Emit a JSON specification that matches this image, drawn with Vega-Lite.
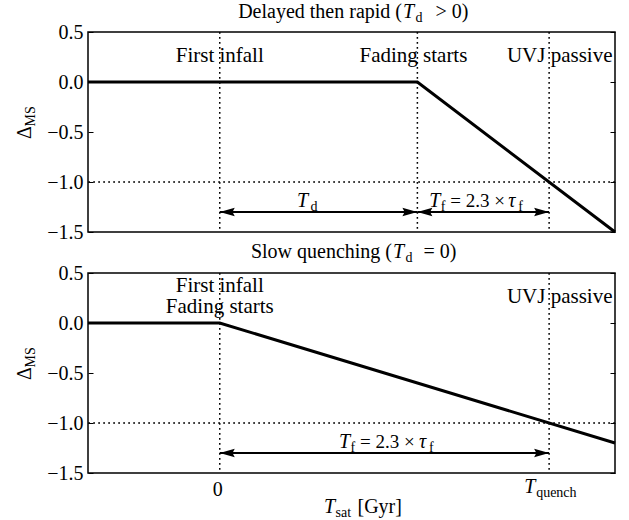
{
  "$schema": "https://vega.github.io/schema/vega-lite/v6.json",
  "background": "white",
  "padding": {"left": 14, "top": 1, "right": 5, "bottom": 0},
  "config": {
    "view": {"stroke": "black", "strokeWidth": 1.5},
    "text": {"font": "Liberation Serif", "fontSize": 20, "color": "black", "baseline": "alphabetic"},
    "axis": {"labelFont": "Liberation Serif", "labelFontSize": 20, "labelColor": "black", "tickColor": "black", "grid": false, "domain": false, "title": null}
  },
  "datasets": {
    "t_line": [{"x": -1, "y": 0}, {"x": 1.5, "y": 0}, {"x": 3, "y": -1.5}],
    "b_line": [{"x": -1, "y": 0}, {"x": 0, "y": 0}, {"x": 3, "y": -1.2}],
    "t_vl": [{"x": 0}, {"x": 1.5}, {"x": 2.5}],
    "b_vl": [{"x": 0}, {"x": 2.5}],
    "hl": [{"y": -1}],
    "t_arr": [{"x": 0, "x2": 1.5, "y": -1.3}, {"x": 1.5, "x2": 2.5, "y": -1.3}],
    "b_arr": [{"x": 0, "x2": 2.5, "y": -1.3}],
    "t_heads": [{"x": 0, "y": -1.3, "dir": "left"}, {"x": 1.5, "y": -1.3, "dir": "right"}, {"x": 1.5, "y": -1.3, "dir": "left"}, {"x": 2.5, "y": -1.3, "dir": "right"}],
    "b_heads": [{"x": 0, "y": -1.3, "dir": "left"}, {"x": 2.5, "y": -1.3, "dir": "right"}],
    "t_lab": [{"x": 0, "y": 0.2, "text": "First infall"}, {"x": 1.47, "y": 0.2, "text": "Fading starts"}, {"x": 2.58, "y": 0.2, "text": "UVJ passive"}],
    "b_lab": [{"x": 0, "y": 0.31, "text": "First infall"}, {"x": 0, "y": 0.1, "text": "Fading starts"}, {"x": 2.58, "y": 0.2, "text": "UVJ passive"}],
    "t_math": [
      {"k": "title_pre", "x": 1, "y": 0.5, "text": "Delayed then rapid ("},
      {"k": "title_T", "x": 1, "y": 0.5, "text": "T"},
      {"k": "title_sub", "x": 1, "y": 0.5, "text": "d"},
      {"k": "title_post", "x": 1, "y": 0.5, "text": "> 0)"},
      {"k": "Td_T", "x": 0.75, "y": -1.25, "text": "T"},
      {"k": "Td_sub", "x": 0.75, "y": -1.25, "text": "d"},
      {"k": "Tf_T", "x": 2.0, "y": -1.25, "text": "T"},
      {"k": "Tf_sub1", "x": 2.0, "y": -1.25, "text": "f"},
      {"k": "Tf_mid", "x": 2.0, "y": -1.25, "text": "= 2.3 ×"},
      {"k": "Tf_tau", "x": 2.0, "y": -1.25, "text": "τ"},
      {"k": "Tf_sub2", "x": 2.0, "y": -1.25, "text": "f"},
      {"k": "yt_D", "x": -1, "y": -0.5, "text": "Δ"},
      {"k": "yt_MS", "x": -1, "y": -0.5, "text": "MS"}
    ],
    "b_math": [
      {"k": "title_pre", "x": 1, "y": 0.5, "text": "Slow quenching ("},
      {"k": "title_T", "x": 1, "y": 0.5, "text": "T"},
      {"k": "title_sub", "x": 1, "y": 0.5, "text": "d"},
      {"k": "title_post", "x": 1, "y": 0.5, "text": "= 0)"},
      {"k": "Tf_T", "x": 1.25, "y": -1.25, "text": "T"},
      {"k": "Tf_sub1", "x": 1.25, "y": -1.25, "text": "f"},
      {"k": "Tf_mid", "x": 1.25, "y": -1.25, "text": "= 2.3 ×"},
      {"k": "Tf_tau", "x": 1.25, "y": -1.25, "text": "τ"},
      {"k": "Tf_sub2", "x": 1.25, "y": -1.25, "text": "f"},
      {"k": "yt_D", "x": -1, "y": -0.5, "text": "Δ"},
      {"k": "yt_MS", "x": -1, "y": -0.5, "text": "MS"},
      {"k": "x0", "x": 0, "y": -1.5, "text": "0"},
      {"k": "Tq_T", "x": 2.5, "y": -1.5, "text": "T"},
      {"k": "Tq_sub", "x": 2.5, "y": -1.5, "text": "quench"},
      {"k": "Ts_T", "x": 1, "y": -1.5, "text": "T"},
      {"k": "Ts_sub", "x": 1, "y": -1.5, "text": "sat"},
      {"k": "Ts_unit", "x": 1, "y": -1.5, "text": "[Gyr]"}
    ]
  },
  "vconcat": [
    {
      "width": 527, "height": 200,
      "resolve": {"axis": {"y": "independent"}},
      "layer": [
        {"data": {"name": "t_vl"}, "mark": {"type": "rule", "color": "black", "strokeWidth": 1.5, "strokeDash": [1.8, 3.2]},
         "encoding": {"x": {"field": "x", "type": "quantitative", "scale": {"domain": [-1, 3], "nice": false}, "axis": null}}},
        {"data": {"name": "hl"}, "mark": {"type": "rule", "color": "black", "strokeWidth": 1.5, "strokeDash": [1.8, 3.2]},
         "encoding": {"y": {"field": "y", "type": "quantitative", "scale": {"domain": [-1.5, 0.5], "nice": false},
           "axis": {"orient": "left", "values": [0.5, 0, -0.5, -1, -1.5], "format": ".1f", "tickSize": -5, "labelPadding": 10}}}},
        {"data": {"name": "t_line"}, "mark": {"type": "line", "color": "black", "strokeWidth": 3},
         "encoding": {"x": {"field": "x", "type": "quantitative", "scale": {"domain": [-1, 3], "nice": false}, "axis": null},
           "y": {"field": "y", "type": "quantitative", "scale": {"domain": [-1.5, 0.5], "nice": false},
             "axis": {"orient": "right", "values": [0.5, 0, -0.5, -1, -1.5], "labels": false, "tickSize": -5}}}},
        {"data": {"name": "t_arr"}, "mark": {"type": "rule", "color": "black", "strokeWidth": 1.8},
         "encoding": {"x": {"field": "x", "type": "quantitative", "scale": {"domain": [-1, 3], "nice": false}, "axis": null}, "x2": {"field": "x2"},
           "y": {"field": "y", "type": "quantitative", "scale": {"domain": [-1.5, 0.5], "nice": false}, "axis": null}}},
        {"data": {"name": "t_heads"}, "mark": {"type": "point", "filled": true, "color": "black", "opacity": 1, "size": 900, "strokeWidth": 0},
         "encoding": {"x": {"field": "x", "type": "quantitative", "scale": {"domain": [-1, 3], "nice": false}, "axis": null},
           "y": {"field": "y", "type": "quantitative", "scale": {"domain": [-1.5, 0.5], "nice": false}, "axis": null},
           "shape": {"field": "dir", "type": "nominal", "scale": {"domain": ["left", "right"], "range": ["M0,0L1,-0.28L0.85,0L1,0.28Z", "M0,0L-1,-0.28L-0.85,0L-1,0.28Z"]}, "legend": null}}},
        {"data": {"name": "t_lab"}, "mark": {"type": "text", "align": "center", "fontSize": 21, "font": "Liberation Serif"},
         "encoding": {"x": {"field": "x", "type": "quantitative", "scale": {"domain": [-1, 3], "nice": false}, "axis": null},
           "y": {"field": "y", "type": "quantitative", "scale": {"domain": [-1.5, 0.5], "nice": false}, "axis": null}, "text": {"field": "text"}}},
        {"data": {"name": "t_math"}, "transform": [{"filter": "datum.k == 'title_pre'"}], "mark": {"type": "text", "align": "right", "font": "Liberation Serif", "dx": 50.5, "dy": -14},
         "encoding": {"x": {"field": "x", "type": "quantitative", "scale": {"domain": [-1, 3], "nice": false}, "axis": null},
           "y": {"field": "y", "type": "quantitative", "scale": {"domain": [-1.5, 0.5], "nice": false}, "axis": null}, "text": {"field": "text"}}},
        {"data": {"name": "t_math"}, "transform": [{"filter": "datum.k == 'title_T'"}], "mark": {"type": "text", "align": "left", "font": "Liberation Serif", "fontStyle": "italic", "dx": 51.5, "dy": -14},
         "encoding": {"x": {"field": "x", "type": "quantitative", "scale": {"domain": [-1, 3], "nice": false}, "axis": null},
           "y": {"field": "y", "type": "quantitative", "scale": {"domain": [-1.5, 0.5], "nice": false}, "axis": null}, "text": {"field": "text"}}},
        {"data": {"name": "t_math"}, "transform": [{"filter": "datum.k == 'title_sub'"}], "mark": {"type": "text", "align": "left", "font": "Liberation Serif", "fontSize": 14, "dx": 64, "dy": -10},
         "encoding": {"x": {"field": "x", "type": "quantitative", "scale": {"domain": [-1, 3], "nice": false}, "axis": null},
           "y": {"field": "y", "type": "quantitative", "scale": {"domain": [-1.5, 0.5], "nice": false}, "axis": null}, "text": {"field": "text"}}},
        {"data": {"name": "t_math"}, "transform": [{"filter": "datum.k == 'title_post'"}], "mark": {"type": "text", "align": "left", "font": "Liberation Serif", "dx": 84, "dy": -14},
         "encoding": {"x": {"field": "x", "type": "quantitative", "scale": {"domain": [-1, 3], "nice": false}, "axis": null},
           "y": {"field": "y", "type": "quantitative", "scale": {"domain": [-1.5, 0.5], "nice": false}, "axis": null}, "text": {"field": "text"}}},
        {"data": {"name": "t_math"}, "transform": [{"filter": "datum.k == 'Td_T'"}], "mark": {"type": "text", "align": "left", "font": "Liberation Serif", "fontStyle": "italic", "dx": -21.5},
         "encoding": {"x": {"field": "x", "type": "quantitative", "scale": {"domain": [-1, 3], "nice": false}, "axis": null},
           "y": {"field": "y", "type": "quantitative", "scale": {"domain": [-1.5, 0.5], "nice": false}, "axis": null}, "text": {"field": "text"}}},
        {"data": {"name": "t_math"}, "transform": [{"filter": "datum.k == 'Td_sub'"}], "mark": {"type": "text", "align": "left", "font": "Liberation Serif", "fontSize": 14, "dx": -8, "dy": 4},
         "encoding": {"x": {"field": "x", "type": "quantitative", "scale": {"domain": [-1, 3], "nice": false}, "axis": null},
           "y": {"field": "y", "type": "quantitative", "scale": {"domain": [-1.5, 0.5], "nice": false}, "axis": null}, "text": {"field": "text"}}},
        {"data": {"name": "t_math"}, "transform": [{"filter": "datum.k == 'Tf_T'"}], "mark": {"type": "text", "align": "left", "font": "Liberation Serif", "fontStyle": "italic", "dx": -54},
         "encoding": {"x": {"field": "x", "type": "quantitative", "scale": {"domain": [-1, 3], "nice": false}, "axis": null},
           "y": {"field": "y", "type": "quantitative", "scale": {"domain": [-1.5, 0.5], "nice": false}, "axis": null}, "text": {"field": "text"}}},
        {"data": {"name": "t_math"}, "transform": [{"filter": "datum.k == 'Tf_sub1'"}], "mark": {"type": "text", "align": "left", "font": "Liberation Serif", "fontSize": 14, "dx": -42.5, "dy": 4},
         "encoding": {"x": {"field": "x", "type": "quantitative", "scale": {"domain": [-1, 3], "nice": false}, "axis": null},
           "y": {"field": "y", "type": "quantitative", "scale": {"domain": [-1.5, 0.5], "nice": false}, "axis": null}, "text": {"field": "text"}}},
        {"data": {"name": "t_math"}, "transform": [{"filter": "datum.k == 'Tf_mid'"}], "mark": {"type": "text", "align": "left", "font": "Liberation Serif", "fontSize": 19, "dx": -33},
         "encoding": {"x": {"field": "x", "type": "quantitative", "scale": {"domain": [-1, 3], "nice": false}, "axis": null},
           "y": {"field": "y", "type": "quantitative", "scale": {"domain": [-1.5, 0.5], "nice": false}, "axis": null}, "text": {"field": "text"}}},
        {"data": {"name": "t_math"}, "transform": [{"filter": "datum.k == 'Tf_tau'"}], "mark": {"type": "text", "align": "left", "font": "Liberation Serif", "fontStyle": "italic", "dx": 25},
         "encoding": {"x": {"field": "x", "type": "quantitative", "scale": {"domain": [-1, 3], "nice": false}, "axis": null},
           "y": {"field": "y", "type": "quantitative", "scale": {"domain": [-1.5, 0.5], "nice": false}, "axis": null}, "text": {"field": "text"}}},
        {"data": {"name": "t_math"}, "transform": [{"filter": "datum.k == 'Tf_sub2'"}], "mark": {"type": "text", "align": "left", "font": "Liberation Serif", "fontSize": 14, "dx": 35, "dy": 4},
         "encoding": {"x": {"field": "x", "type": "quantitative", "scale": {"domain": [-1, 3], "nice": false}, "axis": null},
           "y": {"field": "y", "type": "quantitative", "scale": {"domain": [-1.5, 0.5], "nice": false}, "axis": null}, "text": {"field": "text"}}},
        {"data": {"name": "t_math"}, "transform": [{"filter": "datum.k == 'yt_D'"}], "mark": {"type": "text", "align": "left", "font": "Liberation Serif", "angle": 270, "dx": -7, "dy": -57},
         "encoding": {"x": {"field": "x", "type": "quantitative", "scale": {"domain": [-1, 3], "nice": false}, "axis": null},
           "y": {"field": "y", "type": "quantitative", "scale": {"domain": [-1.5, 0.5], "nice": false}, "axis": null}, "text": {"field": "text"}}},
        {"data": {"name": "t_math"}, "transform": [{"filter": "datum.k == 'yt_MS'"}], "mark": {"type": "text", "align": "left", "font": "Liberation Serif", "angle": 270, "fontSize": 14, "dx": 5.5, "dy": -53},
         "encoding": {"x": {"field": "x", "type": "quantitative", "scale": {"domain": [-1, 3], "nice": false}, "axis": null},
           "y": {"field": "y", "type": "quantitative", "scale": {"domain": [-1.5, 0.5], "nice": false}, "axis": null}, "text": {"field": "text"}}}
      ]
    },
    {
      "width": 527, "height": 200,
      "resolve": {"axis": {"y": "independent"}},
      "layer": [
        {"data": {"name": "b_vl"}, "mark": {"type": "rule", "color": "black", "strokeWidth": 1.5, "strokeDash": [1.8, 3.2]},
         "encoding": {"x": {"field": "x", "type": "quantitative", "scale": {"domain": [-1, 3], "nice": false}, "axis": null}}},
        {"data": {"name": "hl"}, "mark": {"type": "rule", "color": "black", "strokeWidth": 1.5, "strokeDash": [1.8, 3.2]},
         "encoding": {"y": {"field": "y", "type": "quantitative", "scale": {"domain": [-1.5, 0.5], "nice": false},
           "axis": {"orient": "left", "values": [0.5, 0, -0.5, -1, -1.5], "format": ".1f", "tickSize": -5, "labelPadding": 10}}}},
        {"data": {"name": "b_line"}, "mark": {"type": "line", "color": "black", "strokeWidth": 3},
         "encoding": {"x": {"field": "x", "type": "quantitative", "scale": {"domain": [-1, 3], "nice": false}, "axis": null},
           "y": {"field": "y", "type": "quantitative", "scale": {"domain": [-1.5, 0.5], "nice": false},
             "axis": {"orient": "right", "values": [0.5, 0, -0.5, -1, -1.5], "labels": false, "tickSize": -5}}}},
        {"data": {"name": "b_arr"}, "mark": {"type": "rule", "color": "black", "strokeWidth": 1.8},
         "encoding": {"x": {"field": "x", "type": "quantitative", "scale": {"domain": [-1, 3], "nice": false}, "axis": null}, "x2": {"field": "x2"},
           "y": {"field": "y", "type": "quantitative", "scale": {"domain": [-1.5, 0.5], "nice": false}, "axis": null}}},
        {"data": {"name": "b_heads"}, "mark": {"type": "point", "filled": true, "color": "black", "opacity": 1, "size": 900, "strokeWidth": 0},
         "encoding": {"x": {"field": "x", "type": "quantitative", "scale": {"domain": [-1, 3], "nice": false}, "axis": null},
           "y": {"field": "y", "type": "quantitative", "scale": {"domain": [-1.5, 0.5], "nice": false}, "axis": null},
           "shape": {"field": "dir", "type": "nominal", "scale": {"domain": ["left", "right"], "range": ["M0,0L1,-0.28L0.85,0L1,0.28Z", "M0,0L-1,-0.28L-0.85,0L-1,0.28Z"]}, "legend": null}}},
        {"data": {"name": "b_lab"}, "mark": {"type": "text", "align": "center", "fontSize": 21, "font": "Liberation Serif"},
         "encoding": {"x": {"field": "x", "type": "quantitative", "scale": {"domain": [-1, 3], "nice": false}, "axis": null},
           "y": {"field": "y", "type": "quantitative", "scale": {"domain": [-1.5, 0.5], "nice": false}, "axis": null}, "text": {"field": "text"}}},
        {"data": {"name": "b_math"}, "transform": [{"filter": "datum.k == 'title_pre'"}], "mark": {"type": "text", "align": "right", "font": "Liberation Serif", "dx": 40.5, "dy": -15},
         "encoding": {"x": {"field": "x", "type": "quantitative", "scale": {"domain": [-1, 3], "nice": false}, "axis": null},
           "y": {"field": "y", "type": "quantitative", "scale": {"domain": [-1.5, 0.5], "nice": false}, "axis": null}, "text": {"field": "text"}}},
        {"data": {"name": "b_math"}, "transform": [{"filter": "datum.k == 'title_T'"}], "mark": {"type": "text", "align": "left", "font": "Liberation Serif", "fontStyle": "italic", "dx": 41.5, "dy": -15},
         "encoding": {"x": {"field": "x", "type": "quantitative", "scale": {"domain": [-1, 3], "nice": false}, "axis": null},
           "y": {"field": "y", "type": "quantitative", "scale": {"domain": [-1.5, 0.5], "nice": false}, "axis": null}, "text": {"field": "text"}}},
        {"data": {"name": "b_math"}, "transform": [{"filter": "datum.k == 'title_sub'"}], "mark": {"type": "text", "align": "left", "font": "Liberation Serif", "fontSize": 14, "dx": 54, "dy": -11},
         "encoding": {"x": {"field": "x", "type": "quantitative", "scale": {"domain": [-1, 3], "nice": false}, "axis": null},
           "y": {"field": "y", "type": "quantitative", "scale": {"domain": [-1.5, 0.5], "nice": false}, "axis": null}, "text": {"field": "text"}}},
        {"data": {"name": "b_math"}, "transform": [{"filter": "datum.k == 'title_post'"}], "mark": {"type": "text", "align": "left", "font": "Liberation Serif", "dx": 72, "dy": -15},
         "encoding": {"x": {"field": "x", "type": "quantitative", "scale": {"domain": [-1, 3], "nice": false}, "axis": null},
           "y": {"field": "y", "type": "quantitative", "scale": {"domain": [-1.5, 0.5], "nice": false}, "axis": null}, "text": {"field": "text"}}},
        {"data": {"name": "b_math"}, "transform": [{"filter": "datum.k == 'Tf_T'"}], "mark": {"type": "text", "align": "left", "font": "Liberation Serif", "fontStyle": "italic", "dx": -45.4},
         "encoding": {"x": {"field": "x", "type": "quantitative", "scale": {"domain": [-1, 3], "nice": false}, "axis": null},
           "y": {"field": "y", "type": "quantitative", "scale": {"domain": [-1.5, 0.5], "nice": false}, "axis": null}, "text": {"field": "text"}}},
        {"data": {"name": "b_math"}, "transform": [{"filter": "datum.k == 'Tf_sub1'"}], "mark": {"type": "text", "align": "left", "font": "Liberation Serif", "fontSize": 14, "dx": -33.9, "dy": 4},
         "encoding": {"x": {"field": "x", "type": "quantitative", "scale": {"domain": [-1, 3], "nice": false}, "axis": null},
           "y": {"field": "y", "type": "quantitative", "scale": {"domain": [-1.5, 0.5], "nice": false}, "axis": null}, "text": {"field": "text"}}},
        {"data": {"name": "b_math"}, "transform": [{"filter": "datum.k == 'Tf_mid'"}], "mark": {"type": "text", "align": "left", "font": "Liberation Serif", "fontSize": 19, "dx": -24.4},
         "encoding": {"x": {"field": "x", "type": "quantitative", "scale": {"domain": [-1, 3], "nice": false}, "axis": null},
           "y": {"field": "y", "type": "quantitative", "scale": {"domain": [-1.5, 0.5], "nice": false}, "axis": null}, "text": {"field": "text"}}},
        {"data": {"name": "b_math"}, "transform": [{"filter": "datum.k == 'Tf_tau'"}], "mark": {"type": "text", "align": "left", "font": "Liberation Serif", "fontStyle": "italic", "dx": 34.6},
         "encoding": {"x": {"field": "x", "type": "quantitative", "scale": {"domain": [-1, 3], "nice": false}, "axis": null},
           "y": {"field": "y", "type": "quantitative", "scale": {"domain": [-1.5, 0.5], "nice": false}, "axis": null}, "text": {"field": "text"}}},
        {"data": {"name": "b_math"}, "transform": [{"filter": "datum.k == 'Tf_sub2'"}], "mark": {"type": "text", "align": "left", "font": "Liberation Serif", "fontSize": 14, "dx": 44.6, "dy": 4},
         "encoding": {"x": {"field": "x", "type": "quantitative", "scale": {"domain": [-1, 3], "nice": false}, "axis": null},
           "y": {"field": "y", "type": "quantitative", "scale": {"domain": [-1.5, 0.5], "nice": false}, "axis": null}, "text": {"field": "text"}}},
        {"data": {"name": "b_math"}, "transform": [{"filter": "datum.k == 'yt_D'"}], "mark": {"type": "text", "align": "left", "font": "Liberation Serif", "angle": 270, "dx": -7, "dy": -57},
         "encoding": {"x": {"field": "x", "type": "quantitative", "scale": {"domain": [-1, 3], "nice": false}, "axis": null},
           "y": {"field": "y", "type": "quantitative", "scale": {"domain": [-1.5, 0.5], "nice": false}, "axis": null}, "text": {"field": "text"}}},
        {"data": {"name": "b_math"}, "transform": [{"filter": "datum.k == 'yt_MS'"}], "mark": {"type": "text", "align": "left", "font": "Liberation Serif", "angle": 270, "fontSize": 14, "dx": 5.5, "dy": -53},
         "encoding": {"x": {"field": "x", "type": "quantitative", "scale": {"domain": [-1, 3], "nice": false}, "axis": null},
           "y": {"field": "y", "type": "quantitative", "scale": {"domain": [-1.5, 0.5], "nice": false}, "axis": null}, "text": {"field": "text"}}},
        {"data": {"name": "b_math"}, "transform": [{"filter": "datum.k == 'x0'"}], "mark": {"type": "text", "align": "center", "font": "Liberation Serif", "dx": -2, "dy": 23},
         "encoding": {"x": {"field": "x", "type": "quantitative", "scale": {"domain": [-1, 3], "nice": false}, "axis": null},
           "y": {"field": "y", "type": "quantitative", "scale": {"domain": [-1.5, 0.5], "nice": false}, "axis": null}, "text": {"field": "text"}}},
        {"data": {"name": "b_math"}, "transform": [{"filter": "datum.k == 'Tq_T'"}], "mark": {"type": "text", "align": "left", "font": "Liberation Serif", "fontStyle": "italic", "dx": -25, "dy": 20},
         "encoding": {"x": {"field": "x", "type": "quantitative", "scale": {"domain": [-1, 3], "nice": false}, "axis": null},
           "y": {"field": "y", "type": "quantitative", "scale": {"domain": [-1.5, 0.5], "nice": false}, "axis": null}, "text": {"field": "text"}}},
        {"data": {"name": "b_math"}, "transform": [{"filter": "datum.k == 'Tq_sub'"}], "mark": {"type": "text", "align": "left", "font": "Liberation Serif", "fontSize": 14, "dx": -13, "dy": 24},
         "encoding": {"x": {"field": "x", "type": "quantitative", "scale": {"domain": [-1, 3], "nice": false}, "axis": null},
           "y": {"field": "y", "type": "quantitative", "scale": {"domain": [-1.5, 0.5], "nice": false}, "axis": null}, "text": {"field": "text"}}},
        {"data": {"name": "b_math"}, "transform": [{"filter": "datum.k == 'Ts_T'"}], "mark": {"type": "text", "align": "left", "font": "Liberation Serif", "fontStyle": "italic", "dx": -27.5, "dy": 40},
         "encoding": {"x": {"field": "x", "type": "quantitative", "scale": {"domain": [-1, 3], "nice": false}, "axis": null},
           "y": {"field": "y", "type": "quantitative", "scale": {"domain": [-1.5, 0.5], "nice": false}, "axis": null}, "text": {"field": "text"}}},
        {"data": {"name": "b_math"}, "transform": [{"filter": "datum.k == 'Ts_sub'"}], "mark": {"type": "text", "align": "left", "font": "Liberation Serif", "fontSize": 14, "dx": -16, "dy": 44},
         "encoding": {"x": {"field": "x", "type": "quantitative", "scale": {"domain": [-1, 3], "nice": false}, "axis": null},
           "y": {"field": "y", "type": "quantitative", "scale": {"domain": [-1.5, 0.5], "nice": false}, "axis": null}, "text": {"field": "text"}}},
        {"data": {"name": "b_math"}, "transform": [{"filter": "datum.k == 'Ts_unit'"}], "mark": {"type": "text", "align": "left", "font": "Liberation Serif", "dx": 6, "dy": 40},
         "encoding": {"x": {"field": "x", "type": "quantitative", "scale": {"domain": [-1, 3], "nice": false}, "axis": null},
           "y": {"field": "y", "type": "quantitative", "scale": {"domain": [-1.5, 0.5], "nice": false}, "axis": null}, "text": {"field": "text"}}}
      ]
    }
  ],
  "spacing": 41,
  "bounds": "flush"
}
